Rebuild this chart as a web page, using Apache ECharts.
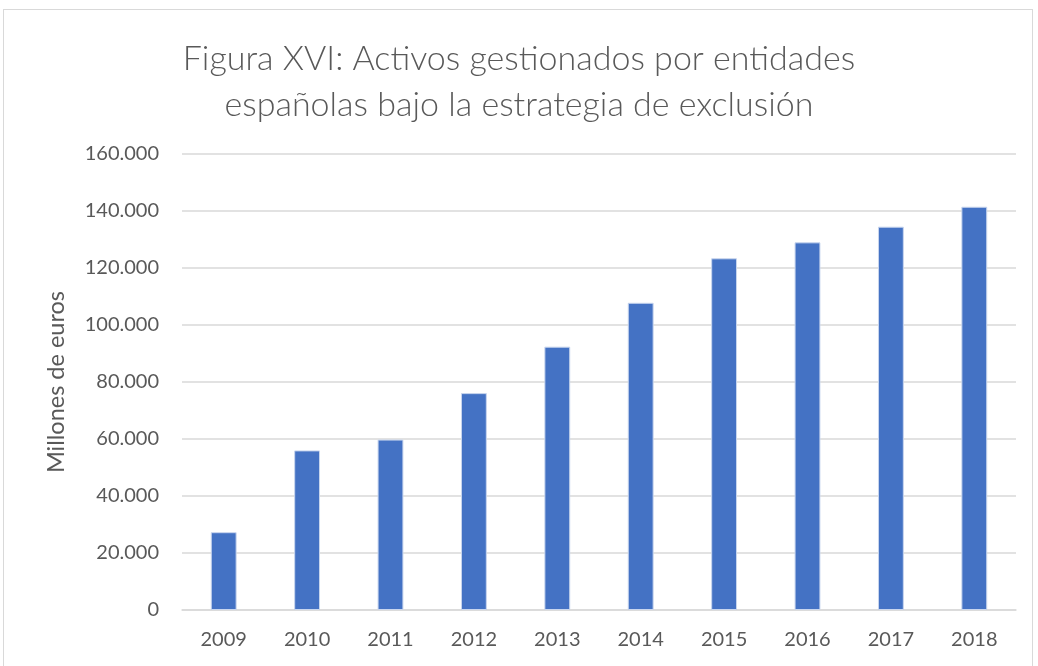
<!DOCTYPE html>
<html>
<head>
<meta charset="utf-8">
<script src="https://cdn.jsdelivr.net/npm/echarts@6/dist/echarts.min.js"></script>
<style>
  html, body { margin: 0; padding: 0; background: #fff; overflow: hidden; }
  #main { position: absolute; left: 0; top: 0; width: 1038px; height: 666px; }
  #frame { position: absolute; left: 3px; top: 9px; width: 1030px; height: 700px; border: 1px solid #d9d9d9; box-sizing: border-box; }
</style>
</head>
<body>
<div id="frame"></div>
<div id="main"></div>
<script>
const years = ['2009', '2010', '2011', '2012', '2013', '2014', '2015', '2016', '2017', '2018']
const assets = [27300, 56000, 59800, 76100, 92400, 107800, 123400, 129000, 134500, 141500]
const titleText = 'Figura XVI: Activos gestionados por entidades\nespañolas bajo la estrategia de exclusión'
const yName = 'Millones de euros'

const chart = echarts.init(document.getElementById('main'))

const option = {
    animation: false,
    title: {
        text: titleText,
        left: 'center',
        top: 31,
        textStyle: {
            fontFamily: 'Lato',
            fontWeight: 300,
            fontSize: 34,
            lineHeight: 46,
            color: '#595959'
        }
    },
    grid: {
        left: 182,
        right: 22,
        top: 154,
        bottom: 56
    },
    xAxis: {
        type: 'category',
        data: years,
        axisLine: { lineStyle: { color: '#d9d9d9', width: 1.5 } },
        axisTick: { show: false },
        axisLabel: {
            color: '#595959',
            fontFamily: 'Lato',
            fontSize: 20,
            margin: 20
        }
    },
    yAxis: {
        type: 'value',
        min: 0,
        max: 160000,
        interval: 20000,
        name: yName,
        nameLocation: 'middle',
        nameGap: 114,
        nameTextStyle: {
            color: '#595959',
            fontFamily: 'Lato',
            fontSize: 23.5
        },
        axisLine: { show: false },
        axisTick: { show: false },
        splitLine: { lineStyle: { color: '#d9d9d9', width: 1.5 } },
        axisLabel: {
            color: '#595959',
            fontFamily: 'Lato',
            fontSize: 20,
            margin: 23,
            formatter: function (v) {
                return v.toLocaleString('de-DE')
            }
        }
    },
    series: [
        {
            type: 'bar',
            data: assets,
            barWidth: '31%',
            itemStyle: {
                color: '#4472c4',
                borderColor: '#c9d6ee',
                borderWidth: 1
            }
        }
    ]
}

chart.setOption(option)
</script>
</body>
</html>
